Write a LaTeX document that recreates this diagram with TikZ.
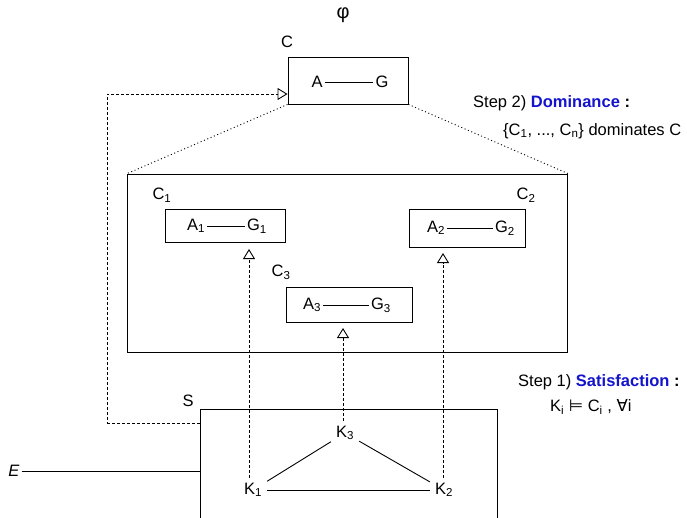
\documentclass[tikz,border=0pt]{standalone}
\usepackage{fontspec}
\setmainfont{Liberation Sans}
\newfontfamily\symf{DejaVu Sans}
\usetikzlibrary{arrows.meta}
\definecolor{stepblue}{RGB}{20,20,205}
\begin{document}
\begin{tikzpicture}[x=1pt,y=-1pt,
  every node/.style={font=\fontsize{16.5}{19}\selectfont, inner sep=2pt},
  box/.style={draw, line width=0.9pt, inner sep=0pt},
  conn/.style={line width=0.9pt},
  knode/.style={inner sep=5pt},
  dashline/.style={line width=0.9pt, dash pattern=on 3pt off 2pt},
  dotline/.style={line width=0.9pt, dash pattern=on 1pt off 2.6pt},
  opentip/.style={-{Triangle[open, width=12pt, length=10pt, line width=0.9pt]}},
  steptext/.style={anchor=west, inner sep=0pt}
]
\clip (0,0) rectangle (687,517);
\fill[white] (0,0) rectangle (687,517);

% top concept C
\node[font=\fontsize{20}{22}\selectfont, inner sep=0pt] (phi) at (343,15) {φ};
\node (Clab) at (287,42) {C};
\node[box, minimum width=120pt, minimum height=47pt] (C) at (348,80.5) {};
\node (A) at (317,82) {A};
\node (G) at (382,82) {G};
\draw[conn] (A) -- (G);

% big box of sub-concepts
\node[box, minimum width=440pt, minimum height=178pt] (big) at (347.5,263) {};
\draw[dotline] (C.south west) -- (big.north west);
\draw[dotline] (C.south east) -- (big.north east);

% C1
\node (C1lab) at (162,195) {C\textsubscript{1}};
\node[box, minimum width=120pt, minimum height=33pt] (C1) at (225.5,225.5) {};
\node (A1) at (196,226) {A\textsubscript{1}};
\node (G1) at (257,226) {G\textsubscript{1}};
\draw[conn] (A1) -- (G1);

% C2
\node (C2lab) at (526,195) {C\textsubscript{2}};
\node[box, minimum width=116pt, minimum height=38pt] (C2) at (467,228) {};
\node (A2) at (436,228) {A\textsubscript{2}};
\node (G2) at (505,228) {G\textsubscript{2}};
\draw[conn] (A2) -- (G2);

% C3
\node (C3lab) at (281,272) {C\textsubscript{3}};
\node[box, minimum width=126pt, minimum height=35pt] (C3) at (349,304.5) {};
\node (A3) at (312,305) {A\textsubscript{3}};
\node (G3) at (381,305) {G\textsubscript{3}};
\draw[conn] (A3) -- (G3);

% structure S
\node (Slab) at (188,401) {S};
\node[box, minimum width=297pt, minimum height=121pt] (S) at (348.5,470) {};
\node[knode] (K3) at (345,433) {K\textsubscript{3}};
\node[knode] (K1) at (253,490) {K\textsubscript{1}};
\node[knode] (K2) at (444,490) {K\textsubscript{2}};
\draw[conn] (K3) -- (K1);
\draw[conn] (K3) -- (K2);
\draw[conn] (K1) -- (K2);

% environment E
\node (E) at (14,471) {\itshape E};
\draw[conn] (E) -- (E -| S.west);

% satisfaction arrows
\coordinate (t1) at (249,249);
\coordinate (t2) at (443,253);
\coordinate (t3) at (343,328);
\draw[dashline, opentip] (K1.north -| t1) -- (t1);
\draw[dashline, opentip] (K2.north -| t2) -- (t2);
\draw[dashline, opentip] (K3.north -| t3) -- (t3);

% dominance loop
\coordinate (lb) at (107.5,423);
\coordinate (lt) at (107.5,94);
\draw[dashline, opentip] (S.west |- lb) -- (lb) -- (lt) -- (C.west |- lt);

% step annotations
\node[steptext] (step2) at (473,103) {Step 2) \textcolor{stepblue}{\bfseries Dominance} \textbf{:}};
\node[steptext] (dom) at (503,131) {\{C\textsubscript{1}, ..., C\textsubscript{n}\} dominates C};
\node[steptext] (step1) at (518,382) {Step 1) \textcolor{stepblue}{\bfseries Satisfaction} \textbf{:}};
\node[steptext] (sat) at (550,407) {K\textsubscript{i} {\symf ⊨} C\textsubscript{i} , {\symf ∀}i};
\end{tikzpicture}
\end{document}
